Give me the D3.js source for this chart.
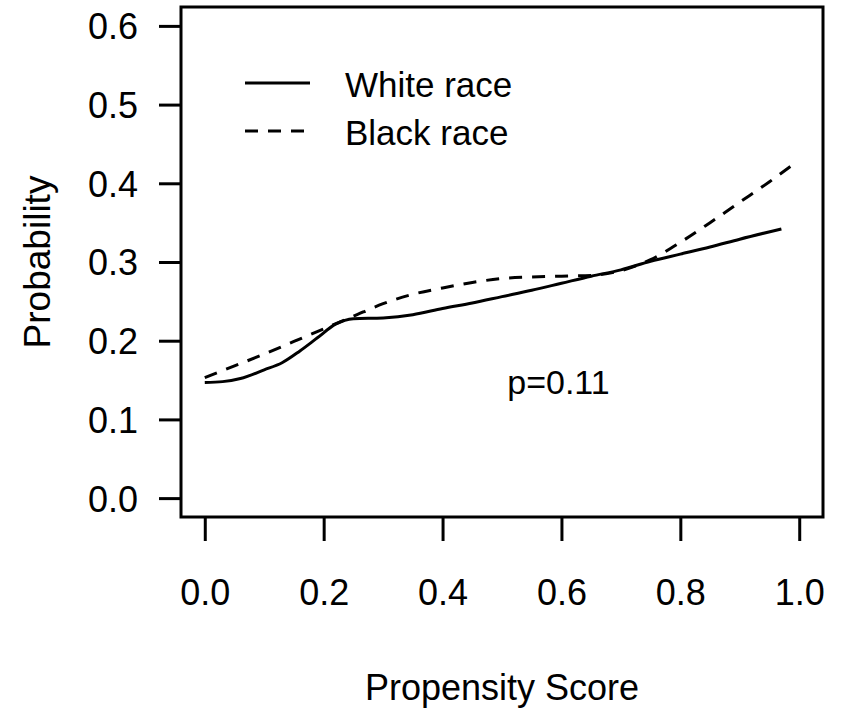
<!DOCTYPE html>
<html>
<head>
<meta charset="utf-8">
<script src="https://cdn.jsdelivr.net/npm/d3@7"></script>
<style>
  body { margin: 0; background: #fff; }
  svg { font-family: "Liberation Sans", Arial, sans-serif; }
</style>
</head>
<body>
<div id="chart"></div>
<script>
// propensity score (x) and fitted probability for each group
var whiteX = [0.0, 0.03, 0.06, 0.1, 0.13, 0.16, 0.19, 0.22, 0.25, 0.3, 0.35, 0.4, 0.45, 0.5, 0.55, 0.6, 0.65, 0.7, 0.75, 0.8, 0.85, 0.9, 0.97];
var whiteY = [0.147, 0.148, 0.152, 0.163, 0.172, 0.187, 0.204, 0.221, 0.228, 0.229, 0.233, 0.241, 0.248, 0.256, 0.264, 0.273, 0.282, 0.290, 0.301, 0.310, 0.319, 0.329, 0.342];
var blackX = [0.0, 0.05, 0.1, 0.15, 0.2, 0.25, 0.3, 0.35, 0.4, 0.45, 0.5, 0.55, 0.6, 0.65, 0.7, 0.75, 0.8, 0.85, 0.9, 0.95, 0.99];
var blackY = [0.153, 0.168, 0.183, 0.199, 0.215, 0.231, 0.247, 0.259, 0.267, 0.274, 0.279, 0.281, 0.282, 0.283, 0.289, 0.303, 0.325, 0.350, 0.376, 0.402, 0.424];

var xTicks = [0, 0.2, 0.4, 0.6, 0.8, 1.0];
var yTicks = [0, 0.1, 0.2, 0.3, 0.4, 0.5, 0.6];
var legendLabels = ["White race", "Black race"];
var pLabel = "p=0.11";

var width = 842, height = 710;
var box = { left: 181, right: 823, top: 7, bottom: 517 };

var svg = d3.select("#chart").append("svg")
    .attr("width", width)
    .attr("height", height);

// R style: limits padded by 4% on each side
var x = d3.scaleLinear().domain([-0.04, 1.04]).range([box.left, box.right]);
var y = d3.scaleLinear().domain([-0.024, 0.624]).range([box.bottom, box.top]);

// plot frame
svg.append("rect")
    .attr("x", box.left).attr("y", box.top)
    .attr("width", box.right - box.left).attr("height", box.bottom - box.top)
    .attr("fill", "none").attr("stroke", "#000").attr("stroke-width", 3);

// axes
var xAxis = svg.append("g")
    .attr("transform", "translate(0," + box.bottom + ")")
    .call(d3.axisBottom(x).tickValues(xTicks).tickSize(24).tickPadding(64).tickFormat(d3.format(".1f")));
var yAxis = svg.append("g")
    .attr("transform", "translate(" + box.left + ",0)")
    .call(d3.axisLeft(y).tickValues(yTicks).tickSize(22).tickPadding(21).tickFormat(d3.format(".1f")));

[xAxis, yAxis].forEach(function(ax) {
  ax.select(".domain").remove();
  ax.selectAll(".tick line").attr("stroke", "#000").attr("stroke-width", 3);
  ax.selectAll(".tick text")
    .attr("fill", "#000")
    .style("font-size", "36px")
    .style("font-family", "'Liberation Sans', Arial, sans-serif");
});
xAxis.selectAll(".tick text").attr("dy", "0");
yAxis.selectAll(".tick text").attr("dy", "0.36em");

// axis titles
svg.append("text")
    .attr("x", (box.left + box.right) / 2).attr("y", 700)
    .attr("text-anchor", "middle")
    .style("font-size", "36px")
    .text("Propensity Score");
svg.append("text")
    .attr("transform", "translate(50," + ((box.top + box.bottom) / 2) + ") rotate(-90)")
    .attr("text-anchor", "middle")
    .style("font-size", "37px")
    .text("Probability");

// curves
var line = d3.line()
    .x(function(d) { return x(d[0]); })
    .y(function(d) { return y(d[1]); })
    .curve(d3.curveMonotoneX);

svg.append("path")
    .datum(d3.zip(whiteX, whiteY))
    .attr("d", line)
    .attr("fill", "none").attr("stroke", "#000").attr("stroke-width", 3)
    .attr("stroke-linejoin", "round");

svg.append("path")
    .datum(d3.zip(blackX, blackY))
    .attr("d", line)
    .attr("fill", "none").attr("stroke", "#000").attr("stroke-width", 3)
    .attr("stroke-dasharray", "13,10");

// legend
var legend = svg.append("g");
legendLabels.forEach(function(lab, i) {
  var ly = 83 + i * 48;
  legend.append("line")
      .attr("x1", 245).attr("x2", 310).attr("y1", ly).attr("y2", ly)
      .attr("stroke", "#000").attr("stroke-width", 3)
      .attr("stroke-dasharray", i === 1 ? "13,10" : null);
  legend.append("text")
      .attr("x", 345).attr("y", ly + 14)
      .style("font-size", "35px")
      .text(lab);
});

// p-value annotation
svg.append("text")
    .attr("x", x(0.595)).attr("y", y(0.15) + 14)
    .attr("text-anchor", "middle")
    .style("font-size", "34px")
    .text(pLabel);
</script>
</body>
</html>
